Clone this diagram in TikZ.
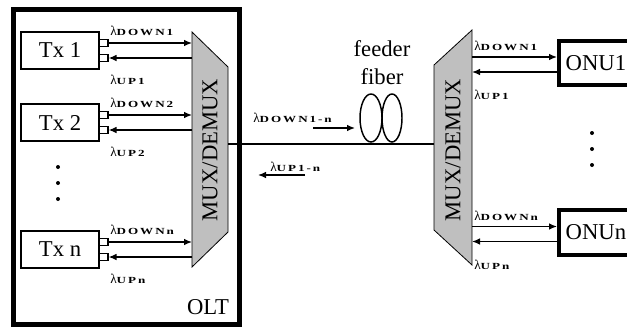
\documentclass[tikz,border=0pt]{standalone}
\usepackage{fontspec}
\usepackage{graphicx}
\setmainfont{Liberation Serif}
\newfontfamily\subfont[LetterSpace=15]{Liberation Serif}
\usetikzlibrary{arrows.meta}
\newcommand{\lam}[1]{{\fontsize{10}{10}\selectfont λ}\scalebox{1.4}[1]{\subfont\bfseries\fontsize{7}{7}\selectfont #1}}

\begin{document}
\begin{tikzpicture}[x=0.75pt,y=-0.75pt,>={Latex[length=6pt,width=5pt]},
    every node/.style={inner sep=0pt},
    bigtext/.style={font=\fontsize{17}{21}\selectfont},
    txbox/.style={draw,line width=1pt,minimum width=58.5pt,minimum height=27.75pt,bigtext},
    onubox/.style={draw,line width=3pt,minimum height=33.5pt,text width=70pt,inner xsep=5pt,align=left,bigtext},
    port/.style={draw,line width=0.9pt,minimum width=6.75pt,minimum height=5.25pt},
    sig/.style={line width=1pt},
    mux/.style={draw,line width=0.6pt,fill=black!25}]
\useasboundingbox (0,0) rectangle (627,329);

% OLT frame
\draw[line width=3.75pt] (13.5,9.5) rectangle (239,324.5);
\node[bigtext] (olt) at (208,307) {OLT};

% multiplexers
\draw[mux] (192,32) -- (228,67) -- (228,232) -- (192,267) -- cycle;
\node[bigtext,rotate=90] (muxL) at (210,150) {MUX/DEMUX};
\draw[mux] (434,65) -- (472,30) -- (472,265) -- (434,230) -- cycle;
\node[bigtext,rotate=90] (muxR) at (453,150) {MUX/DEMUX};

% feeder fiber
\coordinate (fL) at (228,144);
\coordinate (fR) at (434,144);
\draw[line width=2.2pt] (fL) -- (fR);
\draw[line width=1.1pt] (371,118) ellipse [x radius=11, y radius=24];
\draw[line width=1.1pt] (392,118) ellipse [x radius=10, y radius=24];
\node[bigtext,align=center] (feeder) at (382,63) {feeder\\fiber};

\node[anchor=west] (ldown) at (253,118) {\lam{DOWN1-n}};
\coordinate (ad1) at (313,128);
\coordinate (ad2) at (355,128);
\draw[sig,->] (ad1) -- (ad2);
\node[anchor=west] (lup) at (270,167) {\lam{UP1-n}};
\coordinate (au1) at (305,175);
\coordinate (au2) at (258,175);
\draw[sig,->] (au1) -- (au2);

% transmitters
\foreach \t/\y in {1/32,2/104,n/231}{
    \node[txbox] (tx\t) at (60,\y+18.5) {Tx \t};
    \node[port] (pd\t) at (103.5,\y+11) {};
    \node[port] (pu\t) at (103.5,\y+26) {};
    \coordinate (md\t) at (192,\y+11);
    \coordinate (mu\t) at (192,\y+26);
    \draw[sig,->] (pd\t) -- (md\t);
    \draw[sig,->] (mu\t) -- (pu\t);
    \node[anchor=west] (ld\t) at (110,\y-1) {\lam{DOWN\t}};
    \node[anchor=west] (lu\t) at (110,\y+48) {\lam{UP\t}};
}
\foreach \y in {167,183,199}{
    \fill (58,\y) circle (1.5pt);
}

% ONUs
\foreach \t/\y in {1/63,n/232.5}{
    \node[onubox,anchor=west] (onu\t) at (557,\y) {ONU\t};
    \coordinate (rd\t) at (472,\y-6);
    \coordinate (ru\t) at (472,\y+9);
    \draw[sig,->] (rd\t) -- (rd\t -| onu\t.west);
    \draw[sig,->] (ru\t -| onu\t.west) -- (ru\t);
    \node[anchor=west] (rld\t) at (474,\y-17) {\lam{DOWN\t}};
    \node[anchor=west] (rlu\t) at (474,\y+32) {\lam{UP\t}};
}
\foreach \y in {133,149,165}{
    \fill (592,\y) circle (1.5pt);
}
\end{tikzpicture}
\end{document}
